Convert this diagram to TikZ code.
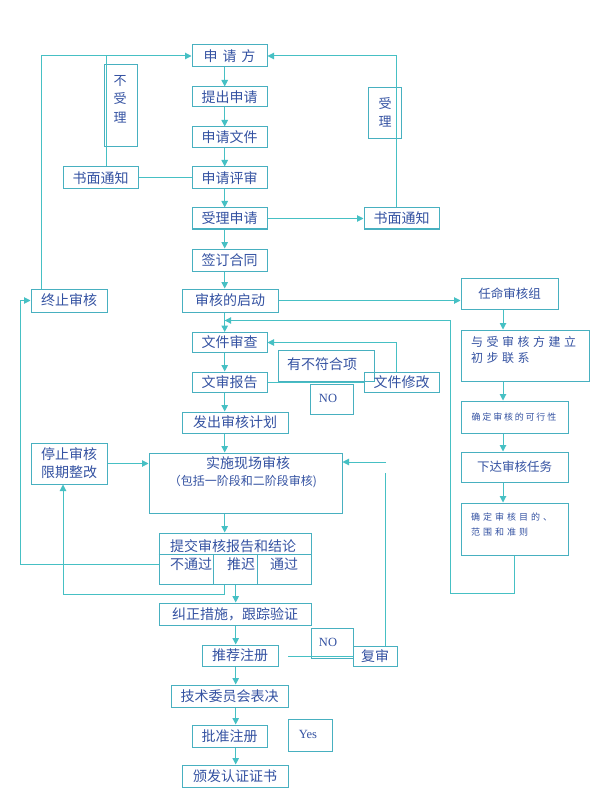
\documentclass[tikz,border=0pt]{standalone}
\usepackage{fontspec}
\setmainfont{Noto Sans CJK SC}
\newfontfamily\lser{Liberation Serif}
\usetikzlibrary{arrows.meta}
\definecolor{ln}{RGB}{70,192,196}
\definecolor{bx}{RGB}{72,176,192}
\definecolor{tx}{RGB}{52,82,162}
\begin{document}
\begin{tikzpicture}[x=1pt,y=-1pt,
  box/.style={draw=bx, line width=1pt, inner sep=0pt, text=tx, font=\fontsize{14}{15}\selectfont},
  txt/.style={inner sep=0pt, text=tx, font=\fontsize{14}{15}\selectfont},
  sm/.style={inner sep=0pt, text=tx, font=\fontsize{9}{15}\selectfont\addfontfeature{LetterSpace=20}},
  lat/.style={inner sep=0pt, text=tx, font=\lser\fontsize{12.5}{14}\selectfont},
  cn/.style={draw=ln, line width=1pt},
  arr/.style={draw=ln, line width=1pt, -{Triangle[length=6.5pt,width=6.5pt,fill=ln]}}]
\useasboundingbox[fill=white] (0,0) rectangle (605,802);

% main column
\node[box, minimum width=75pt, minimum height=22pt] (sqf) at (229.5,56) {申\hspace{5pt}请\hspace{5pt}方};
\node[box, minimum width=75pt, minimum height=20pt] (tc) at (229.5,97) {提出申请};
\node[box, minimum width=75pt, minimum height=21pt] (wj) at (229.5,137.5) {申请文件};
\node[box, minimum width=75pt, minimum height=22pt] (ps) at (229.5,178) {申请评审};
\node[box, minimum width=75pt, minimum height=21pt] (sl) at (229.5,218.5) {受理申请};
\node[box, minimum width=75pt, minimum height=22pt] (qh) at (229.5,260) {签订合同};
\node[box, minimum width=96pt, minimum height=23pt] (qd) at (230,300.5) {审核的启动};
\node[box, minimum width=75pt, minimum height=20pt] (sc) at (229.5,342.5) {文件审查};
\node[box, minimum width=75pt, minimum height=20pt] (bg) at (229.5,382) {文审报告};
\node[box, minimum width=106pt, minimum height=21pt] (jh) at (235,422.5) {发出审核计划};
\node[box, minimum width=193pt, minimum height=60pt] (ss) at (245.5,483) {};
\node[txt] (sst1) at (248,463) {实施现场审核};
\node[txt, font=\fontsize{12}{14}\selectfont] (sst2) at (243,482) {（包括一阶段和二阶段审核)};
\node[box, minimum width=152pt, minimum height=51pt] (tj) at (235,558.5) {};
\node[txt] (tjt) at (233,546) {提交审核报告和结论};
\node[txt] (btg) at (191,564) {不通过};
\node[txt] (tch) at (241,564) {推迟};
\node[txt] (tg) at (284,564) {通过};
\node[box, minimum width=152pt, minimum height=22pt] (jz) at (235,614) {纠正措施，跟踪验证};
\node[box, minimum width=76pt, minimum height=21pt] (tjz) at (240,655.5) {推荐注册};
\node[box, minimum width=117pt, minimum height=22pt] (js) at (229.5,696) {技术委员会表决};
\node[box, minimum width=75pt, minimum height=22pt] (pz) at (229.5,736) {批准注册};
\node[box, minimum width=106pt, minimum height=22pt] (bf) at (235,776) {颁发认证证书};

% left side
\node[box, minimum width=33pt, minimum height=82pt] (bsl) at (120.5,106) {};
\node[txt, align=center, font=\fontsize{13}{18.5}\selectfont] (bslt) at (120,99) {不\\受\\理};
\node[box, minimum width=75pt, minimum height=22pt] (sml) at (100.5,178) {书面通知};
\node[box, minimum width=76pt, minimum height=23pt] (zz) at (69,300.5) {终止审核};
\node[box, minimum width=76pt, minimum height=41pt, align=center, font=\fontsize{14}{18}\selectfont] (tz) at (69,463.5) {停止审核\\限期整改};

% right side (upper)
\node[box, minimum width=33pt, minimum height=51pt] (slb) at (384.5,113.5) {};
\node[txt, align=center, font=\fontsize{13}{18}\selectfont] (slbt) at (385,112) {受\\理};
\node[box, minimum width=75pt, minimum height=21pt] (smr) at (401.5,218.5) {书面通知};
\node[box, minimum width=96pt, minimum height=31pt] (yb) at (326,365.5) {};
\node[txt] (ybt) at (322,364) {有不符合项};
\node[box, minimum width=75pt, minimum height=20pt] (xg) at (401.5,382) {文件修改};
\node[box, minimum width=43pt, minimum height=30pt] (no1) at (331.5,399) {};
\node[lat] (no1t) at (328,398) {NO};
\node[box, minimum width=42pt, minimum height=30pt] (no2) at (332,643) {};
\node[lat] (no2t) at (328,642) {NO};
\node[box, minimum width=44pt, minimum height=20pt] (fs) at (375,656) {复审};
\node[box, minimum width=44pt, minimum height=32pt] (yes) at (310,735) {};
\node[lat] (yest) at (308,734) {Yes};

% right column
\node[box, minimum width=97pt, minimum height=31pt, font=\fontsize{12.5}{14}\selectfont] (rm) at (509.5,293.5) {任命审核组};
\node[box, minimum width=128pt, minimum height=51pt] (ysh) at (525,355.5) {};
\node[txt, align=left, anchor=west, font=\fontsize{12}{16}\selectfont\addfontfeature{LetterSpace=29}] (ysht) at (471,350) {与受审核方建立\\初步联系};
\node[box, minimum width=107pt, minimum height=32pt] (kx) at (514.5,417) {};
\node[sm] (kxt) at (514,417) {确定审核的可行性};
\node[box, minimum width=107pt, minimum height=30pt, font=\fontsize{12.5}{14}\selectfont] (xd) at (514.5,467) {下达审核任务};
\node[box, minimum width=107pt, minimum height=52pt] (md) at (514.5,529) {};
\node[sm, align=left, anchor=west, font=\fontsize{9}{15}\selectfont\addfontfeature{LetterSpace=33}] (mdt) at (471,524.5) {确定审核目的、\\范围和准则};

% coordinates
\coordinate (mx) at (224.7,0);
\coordinate (mx2) at (235.7,0);
\coordinate (L1) at (41.7,56);
\coordinate (L2) at (106,56);
\coordinate (R1) at (396.7,56);
\coordinate (rx) at (503,0);
\coordinate (lp1) at (514,593);
\coordinate (lp2) at (450.5,320.5);
\coordinate (wx) at (396,342.5);
\coordinate (rt) at (386,462);
\coordinate (rv) at (385.7,473);
\coordinate (b1) at (20.7,564);
\coordinate (b2) at (63,594);
\coordinate (tjh) at (0,554);
\coordinate (d1) at (213,0);
\coordinate (d2) at (257,0);
\coordinate (fx) at (288,656);

% main arrows
\draw[arr] (sqf.south -| mx) -- (tc.north -| mx);
\draw[arr] (tc.south -| mx) -- (wj.north -| mx);
\draw[arr] (wj.south -| mx) -- (ps.north -| mx);
\draw[arr] (ps.south -| mx) -- (sl.north -| mx);
\draw[arr] (sl.south -| mx) -- (qh.north -| mx);
\draw[arr] (qh.south -| mx) -- (qd.north -| mx);
\draw[arr] (qd.south -| mx) -- (sc.north -| mx);
\draw[arr] (sc.south -| mx) -- (bg.north -| mx);
\draw[arr] (bg.south -| mx) -- (jh.north -| mx);
\draw[arr] (jh.south -| mx) -- (ss.north -| mx);
\draw[arr] (ss.south -| mx) -- (tj.north -| mx);
\draw[arr] (tj.south -| mx2) -- (jz.north -| mx2);
\draw[arr] (jz.south -| mx2) -- (tjz.north -| mx2);
\draw[arr] (tjz.south -| mx2) -- (js.north -| mx2);
\draw[arr] (js.south -| mx2) -- (pz.north -| mx2);
\draw[arr] (pz.south -| mx2) -- (bf.north -| mx2);

% tijiao interior
\draw[draw=bx, line width=1pt] (tj.west |- tjh) -- (tj.east |- tjh);
\draw[draw=bx, line width=1pt] (d1 |- tjh) -- (d1 |- tj.south);
\draw[draw=bx, line width=1pt] (d2 |- tjh) -- (d2 |- tj.south);

% side connectors
\draw[arr] (zz.north -| L1) |- (sqf.west);
\draw[cn] (sml.north -| L2) -- (L2);
\draw[cn] (ps.west) -- (sml.east);
\draw[arr] (sl.east) -- (smr.west);
\draw[arr] (smr.north -| R1) |- (sqf.east);
\draw[arr] (qd.east) -- (qd.east -| rm.west);
\draw[arr] (rm.south -| rx) -- (ysh.north -| rx);
\draw[arr] (ysh.south -| rx) -- (kx.north -| rx);
\draw[arr] (kx.south -| rx) -- (xd.north -| rx);
\draw[arr] (xd.south -| rx) -- (md.north -| rx);
\draw[arr] (md.south -| lp1) -- (lp1) -| (lp2) -- (lp2 -| mx);
\draw[arr] (xg.north -| wx) |- (sc.east);
\draw[cn] (bg.east) -- (bg.east -| xg.west);
\draw[arr] (tz.east) -- (tz.east -| ss.west);
\draw[arr] (rt) -- (rt -| ss.east);
\draw[cn] (fs.north -| rv) -- (rv);
\draw[arr] (b1 -| tj.west) -- (b1) |- (zz.west);
\draw[arr] (tj.south -| mx) |- (b2) -- (b2 |- tz.south);
\draw[cn] (fx) -- (fs.west);
\end{tikzpicture}
\end{document}
